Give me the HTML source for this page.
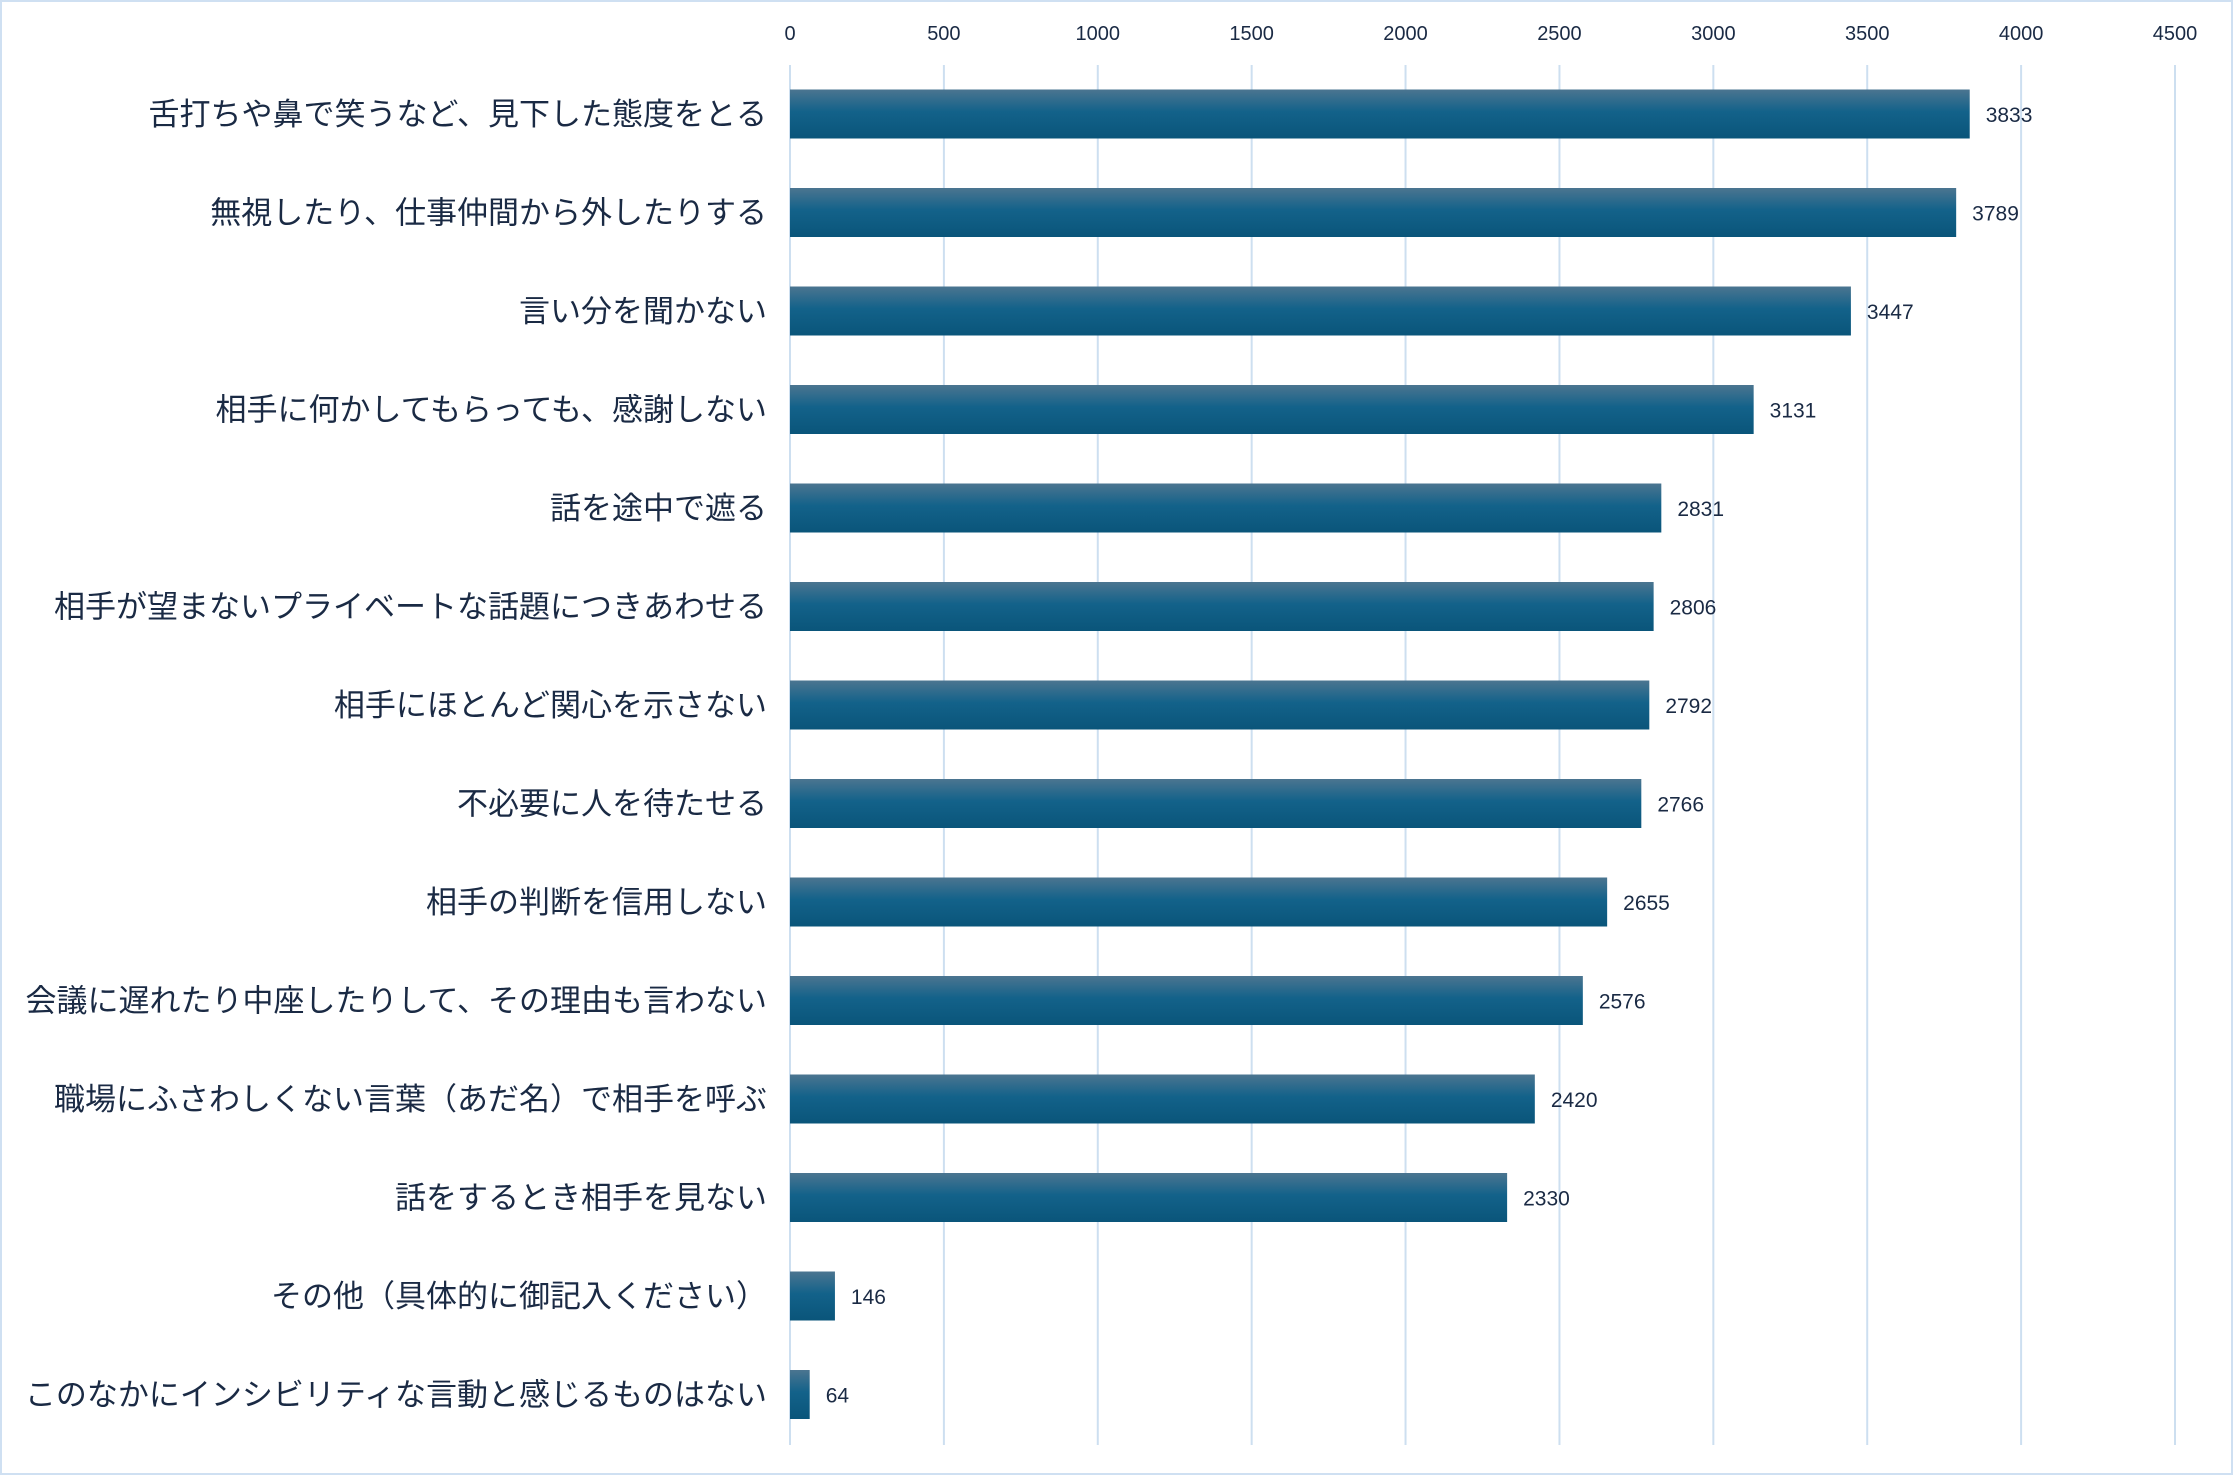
<!DOCTYPE html>
<html><head><meta charset="utf-8"><style>
html,body{margin:0;padding:0;background:#fff}
#c{width:2233px;height:1475px;position:relative;box-sizing:border-box;border:2px solid #cfe0f2;background:#fff;overflow:hidden}
svg text{font-family:"Liberation Sans","Noto Sans CJK JP",sans-serif}
</style></head><body>
<div id="c">
<svg id="s" width="2229" height="1471">
<defs><linearGradient id="g" x1="0" y1="0" x2="0" y2="1">
<stop offset="0" stop-color="#4b7590"/><stop offset="0.45" stop-color="#13628a"/><stop offset="1" stop-color="#0a557a"/></linearGradient></defs>
</svg></div>
<script>
const categories=["舌打ちや鼻で笑うなど、見下した態度をとる","無視したり、仕事仲間から外したりする","言い分を聞かない","相手に何かしてもらっても、感謝しない","話を途中で遮る","相手が望まないプライベートな話題につきあわせる","相手にほとんど関心を示さない","不必要に人を待たせる","相手の判断を信用しない","会議に遅れたり中座したりして、その理由も言わない","職場にふさわしくない言葉（あだ名）で相手を呼ぶ","話をするとき相手を見ない","その他（具体的に御記入ください）","このなかにインシビリティな言動と感じるものはない"];
const values=[3833,3789,3447,3131,2831,2806,2792,2766,2655,2576,2420,2330,146,64];
const ticks=[0,500,1000,1500,2000,2500,3000,3500,4000,4500];
const s=document.getElementById('s');const NS="http://www.w3.org/2000/svg";
const X0=788,X1=2173,MAX=4500,Y0=63,Y1=1443,ROW0=112,STEP=98.5,BH=49;
const x=v=>X0+(v/MAX)*(X1-X0);
const y=i=>ROW0+i*STEP;
function mk(t,a){const e=document.createElementNS(NS,t);for(const k in a)e.setAttribute(k,a[k]);s.appendChild(e);return e;}
ticks.forEach(t=>{
 const l=mk('line',{x1:x(t),x2:x(t),y1:Y0,y2:Y1,stroke:'#cddff0','stroke-width':2});
 
 
 const tx=mk('text',{x:x(t),y:38,'text-anchor':'middle','font-size':20,fill:'#1a2a44'});
 tx.textContent=t;
 
 
});
categories.forEach((c,i)=>{
 const lb=mk('text',{x:765,y:y(i)+11,'text-anchor':'end','font-size':31,fill:'#1a2a44'});
 lb.textContent=c;
 
 
 const r=mk('rect',{x:x(0),y:y(i)-BH/2,width:x(values[i])-x(0),height:BH,fill:'url(#g)'});
 
 
 const v=mk('text',{x:x(values[i])+16,y:y(i)+8,'font-size':21,fill:'#1a2a44'});
 v.textContent=values[i];
 
 
});
</script>
</body></html>
